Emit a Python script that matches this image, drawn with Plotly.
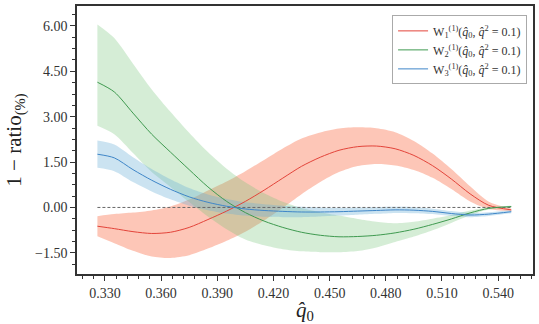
import plotly.graph_objects as go

# q0 grid and the three curves
q0 = [0.326, 0.335, 0.345, 0.355, 0.365, 0.375, 0.385, 0.395, 0.405, 0.415, 0.425, 0.435,
      0.445, 0.455, 0.465, 0.475, 0.485, 0.495, 0.505, 0.515, 0.525, 0.535, 0.547]

w1 = [-0.62, -0.70, -0.80, -0.86, -0.82, -0.66, -0.40, -0.12, 0.20, 0.57, 0.97, 1.36,
      1.66, 1.89, 2.01, 2.03, 1.94, 1.72, 1.38, 0.94, 0.45, 0.07, -0.08]
w1_err = [0.33, 0.48, 0.63, 0.76, 0.85, 0.92, 0.96, 0.98, 1.00, 1.00, 0.98, 0.92,
          0.82, 0.72, 0.64, 0.59, 0.55, 0.48, 0.40, 0.33, 0.25, 0.12, 0.04]

w2 = [4.14, 3.82, 3.12, 2.42, 1.83, 1.25, 0.68, 0.20, -0.17, -0.45, -0.66, -0.82,
      -0.92, -0.97, -0.96, -0.92, -0.84, -0.72, -0.56, -0.38, -0.18, -0.03, 0.03]
w2_err_up = [1.91, 1.78, 1.63, 1.48, 1.33, 1.22, 1.15, 1.08, 1.00, 0.92, 0.85, 0.80,
             0.76, 0.70, 0.58, 0.45, 0.32, 0.25, 0.19, 0.13, 0.08, 0.04, 0.03]
w2_err_dn = [1.44, 1.40, 1.32, 1.25, 1.15, 1.07, 0.98, 0.92, 0.89, 0.80, 0.72, 0.63,
             0.56, 0.51, 0.48, 0.40, 0.30, 0.24, 0.19, 0.13, 0.08, 0.04, 0.03]

w3 = [1.76, 1.64, 1.25, 0.90, 0.60, 0.35, 0.17, 0.04, -0.05, -0.10, -0.13, -0.15,
      -0.15, -0.14, -0.12, -0.10, -0.08, -0.09, -0.13, -0.20, -0.25, -0.22, -0.14]
w3_err = [0.45, 0.44, 0.41, 0.37, 0.33, 0.29, 0.26, 0.24, 0.22, 0.21, 0.19, 0.17,
          0.15, 0.13, 0.12, 0.11, 0.10, 0.10, 0.09, 0.08, 0.07, 0.06, 0.05]

x_ticks = [0.33, 0.36, 0.39, 0.42, 0.45, 0.48, 0.51, 0.54]
y_ticks = [-1.5, 0.0, 1.5, 3.0, 4.5, 6.0]

FONT = "Liberation Serif, DejaVu Serif, serif"

series = [
    ("W<sub>1</sub><sup>(1)</sup>(<i>q̂</i><sub>0</sub>, <i>q̂</i><sup>2</sup> = 0.1)",
     w1, [a + e for a, e in zip(w1, w1_err)], [a - e for a, e in zip(w1, w1_err)],
     "#e3443a", "rgba(251,128,96,0.45)"),
    ("W<sub>2</sub><sup>(1)</sup>(<i>q̂</i><sub>0</sub>, <i>q̂</i><sup>2</sup> = 0.1)",
     w2, [a + e for a, e in zip(w2, w2_err_up)], [a - e for a, e in zip(w2, w2_err_dn)],
     "#3f9a50", "rgba(116,196,118,0.30)"),
    ("W<sub>3</sub><sup>(1)</sup>(<i>q̂</i><sub>0</sub>, <i>q̂</i><sup>2</sup> = 0.1)",
     w3, [a + e for a, e in zip(w3, w3_err)], [a - e for a, e in zip(w3, w3_err)],
     "#3f86c8", "rgba(107,174,214,0.35)"),
]

fig = go.Figure()

# bands first
for name, mid, hi, lo, lc, fc in series:
    fig.add_trace(go.Scatter(x=q0, y=hi, mode="lines",
                             line=dict(width=0, shape="spline", smoothing=0.8),
                             showlegend=False, hoverinfo="skip"))
    fig.add_trace(go.Scatter(x=q0, y=lo, mode="lines",
                             line=dict(width=0, shape="spline", smoothing=0.8),
                             fill="tonexty", fillcolor=fc, showlegend=False, hoverinfo="skip"))

# zero reference line
fig.add_trace(go.Scatter(x=[q0[0], q0[-1]], y=[0, 0], mode="lines",
                         line=dict(color="#666666", width=1, dash="3px,2px"),
                         showlegend=False, hoverinfo="skip"))

# central curves
for name, mid, hi, lo, lc, fc in series:
    fig.add_trace(go.Scatter(x=q0, y=mid, mode="lines", name=name,
                             line=dict(color=lc, width=1, shape="spline", smoothing=0.8)))

axis_common = dict(showgrid=False, zeroline=False, showline=True, mirror=True,
                   linecolor="#333333", linewidth=1.5, ticks="outside", ticklen=5,
                   tickwidth=1, tickcolor="#333333",
                   tickfont=dict(family=FONT, size=14, color="#333333"))

fig.update_xaxes(range=[0.3151, 0.5586], tickvals=x_ticks, tickformat=".3f",
                 minor=dict(dtick=0.006, tick0=0.33, ticklen=3, ticks="outside",
                            tickcolor="#333333"),
                 title=dict(text="<i>q̂</i><sub>0</sub>", font=dict(family=FONT, size=21, color="#222"),
                            standoff=4),
                 **axis_common)
fig.update_yaxes(range=[-2.2, 6.66], tickvals=y_ticks, tickformat=".2f",
                 minor=dict(dtick=0.375, tick0=0, ticklen=3, ticks="outside",
                            tickcolor="#333333"),
                 title=dict(text="1 − ratio<sub>(%)</sub>", font=dict(family=FONT, size=21, color="#222"),
                            standoff=8),
                 **axis_common)

fig.update_layout(
    width=539, height=324,
    margin=dict(l=77, r=4, t=4, b=50),
    plot_bgcolor="white", paper_bgcolor="white",
    font=dict(family=FONT, color="#333333"),
    legend=dict(x=0.987, y=0.965, xanchor="right", yanchor="top", traceorder="normal",
                bgcolor="rgba(255,255,255,0.9)", bordercolor="#aaaaaa", borderwidth=1,
                font=dict(family=FONT, size=12, color="#333333"),
                tracegroupgap=0, itemwidth=30),
)

fig.write_html("out.html", config={"displayModeBar": False},
               post_script="document.body.style.margin='0';")
